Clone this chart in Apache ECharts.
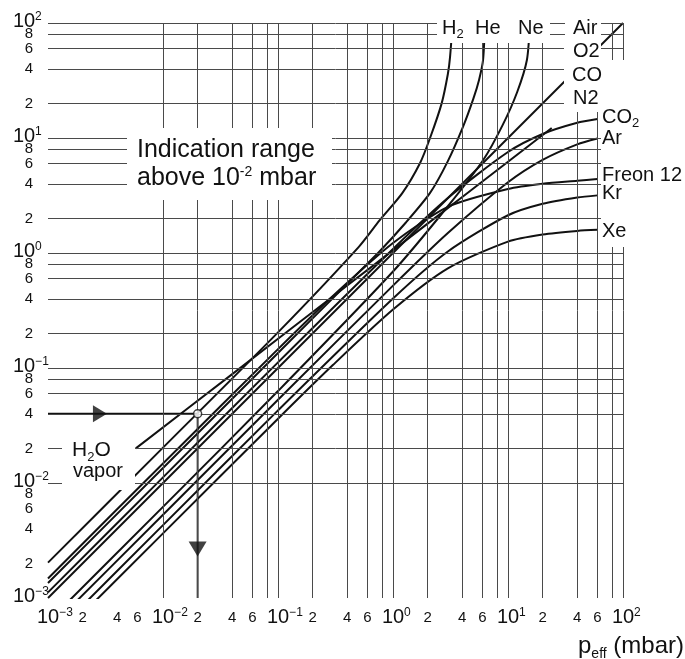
<!DOCTYPE html>
<html>
<head>
<meta charset="utf-8">
<title>Pirani correction curves</title>
<script src="https://cdn.jsdelivr.net/npm/echarts@6.0.0/dist/echarts.min.js"></script>
<style>
  html, body { margin: 0; padding: 0; background: #fff; }
  #main { width: 685px; height: 659px; }
</style>
</head>
<body>
<div id="main"></div>
<script>
// grid lines (mbar), same on both axes
var gridValues = [0.001, 0.002, 0.004, 0.006, 0.008, 0.01, 0.02, 0.04, 0.06, 0.08, 0.1, 0.2, 0.4, 0.6, 0.8,
    1, 2, 4, 6, 8, 10, 20, 40, 60, 80, 100];
var xTickValues = [0.001, 0.002, 0.004, 0.006, 0.01, 0.02, 0.04, 0.06, 0.1, 0.2, 0.4, 0.6,
    1, 2, 4, 6, 10, 20, 40, 60, 100];
var yTickValues = [0.001, 0.002, 0.004, 0.006, 0.008, 0.01, 0.02, 0.04, 0.06, 0.08, 0.1, 0.2, 0.4, 0.6, 0.8,
    1, 2, 4, 6, 8, 10, 20, 40, 60, 80, 100];

// curves: [p_eff, indicated pressure], mbar
var h2Curve = [[0.001, 0.00203], [0.01, 0.0203], [0.1, 0.204], [0.5, 1.12], [0.77, 1.94], [1.2, 3.3],
    [1.72, 6.07], [2.1, 10], [2.65, 20], [3.0, 36], [3.13, 50], [3.3, 100]];
var heCurve = [[0.001, 0.00135], [0.01, 0.0135], [0.1, 0.135], [0.4, 0.54], [0.77, 1.04], [1.3, 1.85],
    [2.1, 3.33], [3.0, 6.3], [4.06, 12.5], [5.0, 22], [5.6, 32], [6.07, 47.7], [6.3, 100]];
var neCurve = [[0.001, 0.00062], [0.01, 0.0062], [0.1, 0.063], [1, 0.69], [3, 2.55], [6.07, 6.4],
    [9, 13], [12, 25], [14.6, 47.7], [15.5, 100]];
var airLine = [[0.001, 0.001], [100, 100]];
var h2oCurve = [[0.0058, 0.02], [0.04, 0.0885], [0.3, 0.418], [2, 1.8], [10, 6.21], [24, 12.2]];
var co2Curve = [[0.001, 0.00112], [0.01, 0.0112], [0.1, 0.112], [1, 1.085], [3, 3.01], [10, 7.55],
    [20, 10.83], [40, 13.55], [60, 14.6]];
var arCurve = [[0.001, 0.00053], [0.01, 0.0053], [0.1, 0.053], [1, 0.52], [3, 1.49], [10, 4.12],
    [20, 6.46], [40, 8.81], [60, 9.9]];
var freonCurve = [[0.001, 0.00148], [0.01, 0.0148], [0.1, 0.146], [0.3, 0.423], [1, 1.22], [3, 2.52],
    [10, 3.6], [20, 4.0], [40, 4.25], [60, 4.4]];
var krCurve = [[0.001, 0.00043], [0.01, 0.0043], [0.1, 0.0428], [1, 0.402], [3, 1.03], [10, 2.13],
    [20, 2.68], [40, 3.04], [60, 3.17]];
var xeCurve = [[0.001, 0.000365], [0.01, 0.00365], [0.1, 0.0362], [0.3, 0.106], [1, 0.322], [3, 0.735],
    [10, 1.257], [20, 1.448], [40, 1.556], [60, 1.59]];

// example reading: 4e-2 indicated -> 2e-2 mbar
var readLine = [[0.001, 0.04], [0.02, 0.04], [0.02, 0.001]];
var readPoint = [[0.02, 0.04]];
var arrowRight = [[0.00283, 0.04]];
var arrowDown = [[0.02, 0.00267]];

var FONT = '"Liberation Sans", Arial, sans-serif';
var INK = '#111';

var chart = echarts.init(document.getElementById('main'));

function curve(data, smooth) {
    return {
        type: 'line', data: data, symbol: 'none', silent: true,
        smooth: smooth ? 0.25 : false,
        lineStyle: { color: INK, width: 2 }, z: 3
    };
}

var markData = [];
gridValues.forEach(function (v) {
    markData.push({ xAxis: v });
    markData.push({ yAxis: v });
});

var logAxis = {
    type: 'log', logBase: 10, min: 0.001, max: 100,
    axisLine: { show: false }, axisTick: { show: false },
    axisLabel: { show: false }, splitLine: { show: false }
};

var option = {
    animation: false,
    backgroundColor: '#fff',
    grid: { left: 48, top: 23, width: 575, height: 575 },
    xAxis: logAxis,
    yAxis: logAxis,
    series: [
        {
            type: 'line', data: [[0.001, 0.001]], symbol: 'none', lineStyle: { width: 0 }, z: 1,
            markLine: {
                silent: true, animation: false, symbol: ['none', 'none'],
                label: { show: false },
                lineStyle: { color: '#4a4a4a', width: 1, type: 'solid' },
                data: markData
            }
        },
        curve(airLine, false),
        curve(h2Curve, true),
        curve(heCurve, true),
        curve(neCurve, true),
        curve(h2oCurve, true),
        curve(co2Curve, true),
        curve(arCurve, true),
        curve(freonCurve, true),
        curve(krCurve, true),
        curve(xeCurve, true),
        {
            type: 'line', data: readLine, symbol: 'none', silent: true,
            lineStyle: { color: INK, width: 1.8 }, z: 4
        },
        {
            type: 'scatter', data: arrowRight, symbol: 'path://M0,0 L10,5 L0,10 Z',
            symbolSize: [14, 17], itemStyle: { color: INK }, silent: true, z: 5
        },
        {
            type: 'scatter', data: arrowDown, symbol: 'path://M0,0 L10,0 L5,10 Z',
            symbolSize: [18, 15], itemStyle: { color: INK }, silent: true, z: 5
        },
        {
            type: 'scatter', data: readPoint, symbol: 'circle', symbolSize: 8, silent: true,
            itemStyle: { color: '#fff', borderColor: INK, borderWidth: 1.5 }, z: 6
        }
    ]
};
chart.setOption(option);

// text styles
var RICH = {
    big: { fontSize: 20, lineHeight: 20, fontFamily: FONT, fill: INK },
    sup: { fontSize: 12, lineHeight: 12, verticalAlign: 'top', fontFamily: FONT, fill: INK },
    hid: { fontSize: 12, lineHeight: 12, verticalAlign: 'top', fontFamily: FONT, fill: 'rgba(0,0,0,0)' },
    mi: { fontSize: 15, lineHeight: 15, fontFamily: FONT, fill: INK },
    lab: { fontSize: 20, lineHeight: 26, fontFamily: FONT, fill: INK },
    sub: { fontSize: 13, lineHeight: 13, verticalAlign: 'bottom', fontFamily: FONT, fill: INK },
    h2o: { fontSize: 21, lineHeight: 27, fontFamily: FONT, fill: INK },
    h2os: { fontSize: 13, lineHeight: 13, verticalAlign: 'bottom', fontFamily: FONT, fill: INK },
    ind: { fontSize: 25, lineHeight: 25, fontFamily: FONT, fill: INK },
    isup: { fontSize: 14, lineHeight: 14, verticalAlign: 'top', fontFamily: FONT, fill: INK },
    pe: { fontSize: 24, lineHeight: 30, fontFamily: FONT, fill: INK },
    pes: { fontSize: 14, lineHeight: 14, verticalAlign: 'bottom', fontFamily: FONT, fill: INK }
};

function txt(x, y, text, align) {
    return {
        type: 'text', x: x, y: y, z: 101, silent: true,
        style: {
            text: text, rich: RICH, fontSize: 20, fontFamily: FONT, fill: INK,
            align: align || 'left', textAlign: align || 'left',
            verticalAlign: 'middle', textVerticalAlign: 'middle'
        }
    };
}

function box(x, y, w, h) {
    return {
        type: 'rect', z: 100, silent: true,
        shape: { x: x, y: y, width: w, height: h },
        style: { fill: '#fff' }
    };
}

// exponent and leading digit of a tick value
function tickParts(v) {
    var e = Math.floor(Math.log10(v) + 1e-6);
    var m = Math.round(v / Math.pow(10, e));
    return { e: e < 0 ? '\u2212' + (-e) : String(e), m: m };
}

var els = [];
// white boxes behind the annotations
els.push(box(127, 128, 205, 72));
els.push(box(62, 437, 73, 53));
els.push(box(437, 8, 113, 35));
els.push(box(565, 8, 36, 35));
els.push(box(564, 43, 37, 69));
els.push(box(601, 60, 84, 187));

// axis tick labels placed through the axis scales
xTickValues.forEach(function (v) {
    var p = chart.convertToPixel({ gridIndex: 0 }, [v, 0.001]);
    var t = tickParts(v);
    if (t.m === 1) {
        els.push(txt(p[0], 617, '{hid|' + t.e + '}{big|10}{sup|' + t.e + '}', 'center'));
    } else {
        els.push(txt(p[0], 618, '{mi|' + t.m + '}', 'center'));
    }
});
yTickValues.forEach(function (v) {
    var p = chart.convertToPixel({ gridIndex: 0 }, [0.001, v]);
    var t = tickParts(v);
    if (t.m === 1) {
        els.push(txt(24, p[1] - 2, '{hid|' + t.e + '}{big|10}{sup|' + t.e + '}', 'center'));
    } else {
        els.push(txt(33, p[1], '{mi|' + t.m + '}', 'right'));
    }
});

// annotations
els.push(txt(137, 150, '{ind|Indication range}'));
els.push(txt(137, 178, '{ind|above 10}{isup|-2}{ind| mbar}'));
els.push(txt(72, 450, '{h2o|H}{h2os|2}{h2o|O}'));
els.push(txt(73, 471, '{lab|vapor}'));
els.push(txt(442, 28, '{lab|H}{sub|2}'));
els.push(txt(475, 28, '{lab|He}'));
els.push(txt(518, 28, '{lab|Ne}'));
els.push(txt(573, 28, '{lab|Air}'));
els.push(txt(573, 51, '{lab|O2}'));
els.push(txt(572, 75, '{lab|CO}'));
els.push(txt(573, 98, '{lab|N2}'));
els.push(txt(602, 117, '{lab|CO}{sub|2}'));
els.push(txt(602, 138, '{lab|Ar}'));
els.push(txt(602, 175, '{lab|Freon 12}'));
els.push(txt(602, 193, '{lab|Kr}'));
els.push(txt(602, 231, '{lab|Xe}'));
els.push(txt(684, 646, '{pe|p}{pes|eff}{pe| (mbar)}', 'right'));

chart.setOption({ graphic: els });
</script>
</body>
</html>
